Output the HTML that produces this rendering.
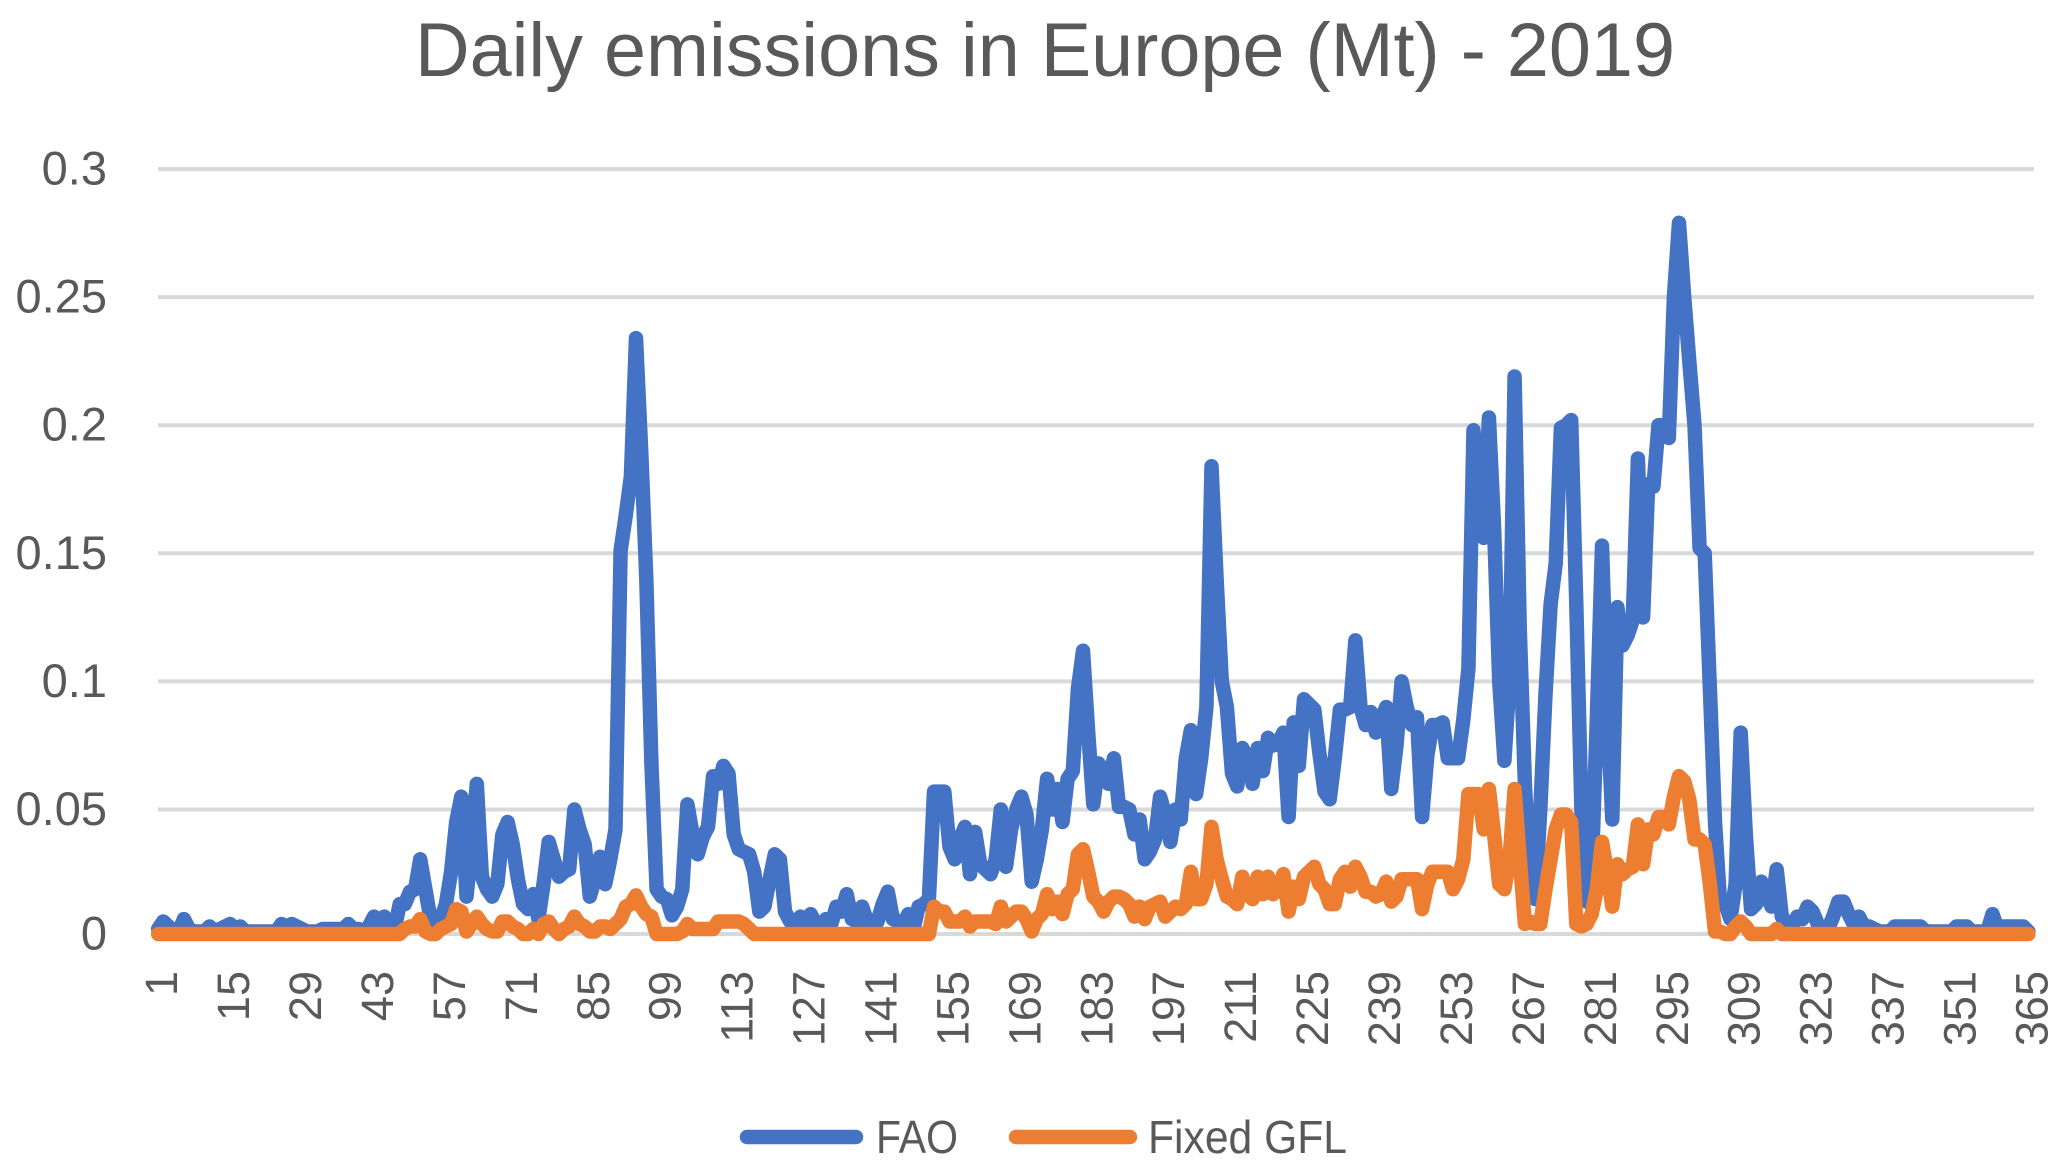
<!DOCTYPE html>
<html lang="en">
<head>
<meta charset="utf-8">
<title>Daily emissions in Europe (Mt) - 2019</title>
<style>
html,body{margin:0;padding:0;background:#fff;width:2067px;height:1172px;overflow:hidden}
svg{display:block}
text{font-family:"Liberation Sans",sans-serif;fill:#595959}
</style>
</head>
<body>
<svg id="chart" xmlns="http://www.w3.org/2000/svg" width="2067" height="1172" viewBox="0 0 2067 1172">
  <rect x="0" y="0" width="2067" height="1172" fill="#ffffff"/>
  <text x="415" y="76" font-size="76" textLength="1260" lengthAdjust="spacingAndGlyphs">Daily emissions in Europe (Mt) - 2019</text>
  <g id="grid"></g>
  <g id="ylabels"></g>
  <g id="xlabels"></g>
  <g id="series"></g>
  <g>
    <line x1="747" y1="1137" x2="856" y2="1137" stroke="#4472C4" stroke-width="14.5" stroke-linecap="round"/>
    <text x="876" y="1153" font-size="46" textLength="82" lengthAdjust="spacingAndGlyphs">FAO</text>
    <line x1="1016" y1="1137" x2="1130" y2="1137" stroke="#ED7D31" stroke-width="14.5" stroke-linecap="round"/>
    <text x="1148" y="1153" font-size="46" textLength="199" lengthAdjust="spacingAndGlyphs">Fixed GFL</text>
  </g>
</svg>
<script>
const yTickValues = [0, 0.05, 0.1, 0.15, 0.2, 0.25, 0.3];
const yTickLabels = ["0", "0.05", "0.1", "0.15", "0.2", "0.25", "0.3"];
const xTickDays = [1, 15, 29, 43, 57, 71, 85, 99, 113, 127, 141, 155, 169, 183, 197, 211, 225, 239, 253, 267, 281, 295, 309, 323, 337, 351, 365];
const faoValues = [
.002,.005,.003,.001,.001,.006,.002,.001,.001,.001,
.003,.001,.002,.003,.004,.002,.003,.001,.001,.001,
.001,.001,.001,.001,.004,.003,.004,.003,.002,.001,
.001,.001,.002,.002,.002,.002,.002,.004,.002,.002,
.001,.003,.007,.005,.007,.002,.002,.012,.012,.017,
.018,.03,.018,.006,.003,.006,.012,.025,.045,.055,
.015,.035,.06,.023,.018,.015,.02,.04,.045,.036,
.022,.012,.01,.016,.006,.02,.037,.03,.023,.025,
.026,.05,.042,.036,.015,.022,.031,.02,.03,.042,
.151,.165,.18,.234,.19,.14,.068,.018,.015,.014,
.0075,.011,.018,.052,.04,.032,.039,.043,.063,.06,
.067,.064,.04,.034,.033,.032,.025,.009,.011,.022,
.032,.03,.009,.005,.004,.007,.004,.008,.004,.004,
.006,.004,.011,.009,.016,.006,.005,.011,.005,.002,
.005,.012,.017,.006,.005,.004,.008,.002,.011,.012,
.014,.057,.057,.057,.035,.03,.038,.043,.024,.041,
.028,.026,.024,.03,.05,.027,.042,.05,.055,.048,
.021,.03,.042,.062,.05,.058,.045,.062,.065,.097,
.112,.08,.052,.068,.065,.06,.07,.051,.051,.05,
.04,.046,.03,.033,.038,.055,.048,.037,.05,.046,
.07,.081,.056,.07,.09,.184,.14,.1,.09,.064,
.059,.074,.07,.06,.074,.065,.078,.075,.076,.08,
.047,.084,.067,.093,.091,.089,.072,.057,.054,.07,
.089,.089,.09,.116,.09,.083,.088,.08,.085,.09,
.058,.075,.1,.09,.083,.086,.047,.071,.083,.083,
.084,.07,.07,.07,.085,.105,.198,.163,.156,.203,
.16,.1,.069,.1,.219,.12,.06,.02,.014,.05,
.095,.13,.146,.199,.2,.202,.13,.05,.013,.025,
.085,.153,.09,.046,.129,.114,.118,.124,.187,.125,
.177,.176,.2,.2,.195,.25,.279,.25,.225,.2,
.152,.15,.097,.045,.012,.012,.006,.02,.08,.04,
.01,.012,.021,.016,.011,.026,.007,.004,.003,.007,
.006,.011,.009,.004,.002,.002,.007,.013,.013,.008,
.004,.007,.003,.003,.002,.001,.001,.001,.003,.003,
.003,.003,.003,.003,.001,.001,.001,.001,.001,.001,
.003,.003,.003,.001,.001,.001,.001,.008,.002,.003,
.003,.003,.003,.003,.001
];
const fixedGflValues = [
0,0,0,0,0,0,0,0,0,0,
0,0,0,0,0,0,0,0,0,0,
0,0,0,0,0,0,0,0,0,0,
0,0,0,0,0,0,0,0,0,0,
0,0,0,0,0,0,0,0,.002,.003,
.003,.006,.001,0,0,.002,.003,.004,.01,.009,
.001,.004,.007,.004,.002,.001,.001,.005,.005,.003,
.002,0,0,.002,0,.004,.005,.002,0,.002,
.003,.007,.004,.003,.001,.001,.003,.003,.002,.004,
.006,.011,.012,.0155,.011,.008,.007,0,0,0,
0,0,.001,.004,.002,.002,.002,.002,.002,.005,
.005,.005,.005,.005,.004,.002,0,0,0,0,
0,0,0,0,0,0,0,0,0,0,
0,0,0,0,0,0,0,0,0,0,
0,0,0,0,0,0,0,0,0,0,
0,.011,.009,.009,.005,.005,.005,.007,.003,.005,
.005,.005,.005,.004,.011,.005,.007,.009,.009,.006,
.001,.006,.008,.016,.01,.013,.008,.016,.018,.032,
.034,.025,.015,.013,.009,.013,.015,.015,.014,.012,
.007,.011,.006,.011,.012,.013,.007,.009,.011,.01,
.012,.025,.014,.014,.02,.043,.03,.022,.015,.014,
.012,.023,.016,.014,.023,.016,.023,.016,.018,.024,
.009,.019,.014,.023,.025,.027,.02,.018,.012,.012,
.022,.025,.019,.027,.023,.017,.017,.015,.016,.021,
.013,.015,.022,.022,.022,.022,.01,.02,.025,.025,
.025,.025,.018,.022,.03,.056,.056,.056,.042,.058,
.04,.02,.018,.03,.058,.03,.004,.005,.004,.004,
.018,.03,.042,.048,.048,.045,.004,.003,.004,.008,
.018,.037,.025,.011,.028,.024,.026,.027,.044,.028,
.042,.04,.047,.047,.044,.055,.063,.061,.054,.038,
.038,.036,.02,.001,.001,0,0,.003,.005,.003,
0,0,0,0,0,.002,0,0,0,0,
0,0,0,0,0,0,0,0,0,0,
0,0,0,0,0,0,0,0,0,0,
0,0,0,0,0,0,0,0,0,0,
0,0,0,0,0,0,0,0,0,0,
0,0,0,0,0
];

const NS = "http://www.w3.org/2000/svg";
function xScale(day) { return 158.2 + 5.138 * (day - 1); }
function yScale(v) { return v <= 0.05 ? 934 - v * 2490 : 809.5 - (v - 0.05) * 2562; }

const gridGroup = document.getElementById("grid");
const yLabelGroup = document.getElementById("ylabels");
yTickValues.forEach(function (v, i) {
  const line = document.createElementNS(NS, "line");
  
  
  line.setAttribute("x1", 158);
  line.setAttribute("x2", 2034);
  line.setAttribute("y1", yScale(v));
  line.setAttribute("y2", yScale(v));
  line.setAttribute("stroke", "#D9D9D9");
  line.setAttribute("stroke-width", 4);
  gridGroup.appendChild(line);

  const label = document.createElementNS(NS, "text");
  
  
  label.setAttribute("x", 107);
  label.setAttribute("y", yScale(v) + 15.5);
  label.setAttribute("font-size", 47);
  label.setAttribute("text-anchor", "end");
  label.textContent = yTickLabels[i];
  yLabelGroup.appendChild(label);
});

const xLabelGroup = document.getElementById("xlabels");
xTickDays.forEach(function (day) {
  const label = document.createElementNS(NS, "text");
  
  
  label.setAttribute("font-size", 45);
  label.setAttribute("text-anchor", "end");
  label.setAttribute("transform", "translate(" + (xScale(day) + 2.5 + 16.5) + ",971) rotate(-90)");
  label.textContent = String(day);
  xLabelGroup.appendChild(label);
});

function linePoints(values) {
  return values.map(function (v, i) {
    return xScale(i + 1).toFixed(1) + "," + yScale(v).toFixed(1);
  }).join(" ");
}

const seriesGroup = document.getElementById("series");
const faoLine = document.createElementNS(NS, "polyline");


faoLine.setAttribute("points", linePoints(faoValues));
faoLine.setAttribute("fill", "none");
faoLine.setAttribute("stroke", "#4472C4");
faoLine.setAttribute("stroke-width", 14.5);
faoLine.setAttribute("stroke-linejoin", "round");
faoLine.setAttribute("stroke-linecap", "round");
seriesGroup.appendChild(faoLine);

const gflLine = document.createElementNS(NS, "polyline");


gflLine.setAttribute("points", linePoints(fixedGflValues));
gflLine.setAttribute("fill", "none");
gflLine.setAttribute("stroke", "#ED7D31");
gflLine.setAttribute("stroke-width", 14.5);
gflLine.setAttribute("stroke-linejoin", "round");
gflLine.setAttribute("stroke-linecap", "round");
seriesGroup.appendChild(gflLine);
</script>
</body>
</html>
